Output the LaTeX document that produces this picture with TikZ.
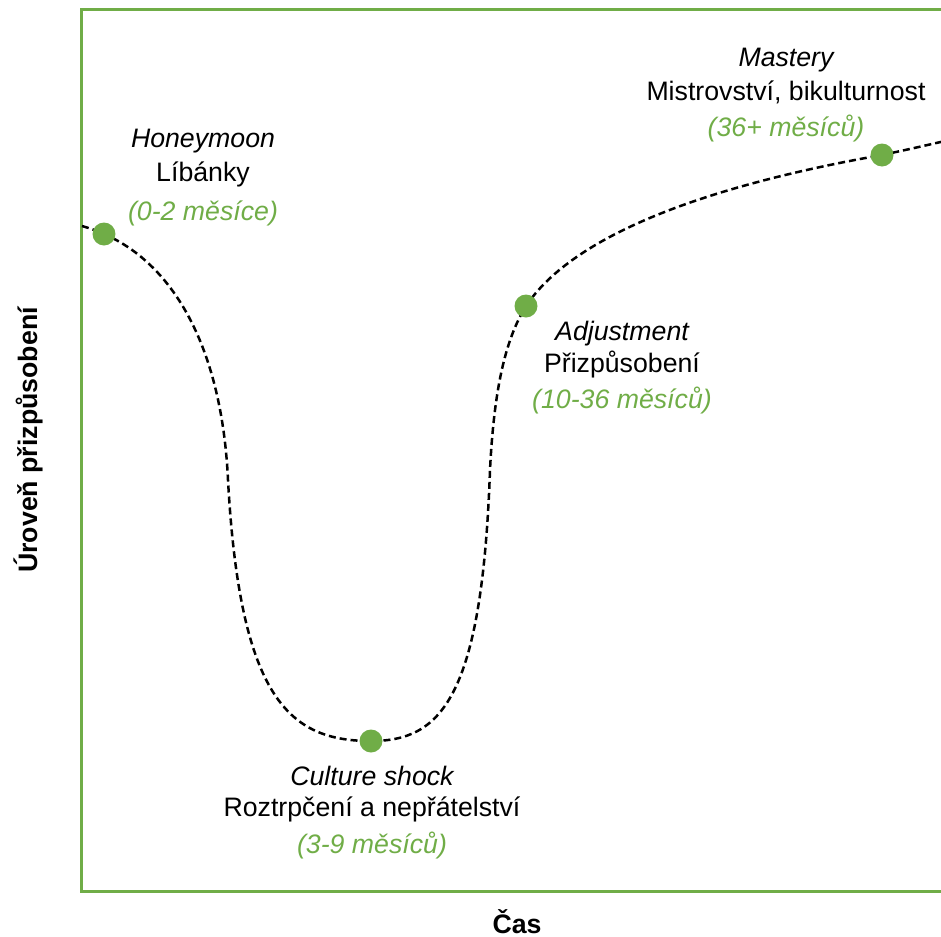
\documentclass[tikz,border=0pt]{standalone}
\usepackage{fontspec}
\setmainfont{Liberation Sans}
\definecolor{leafgreen}{HTML}{70AD47}

\begin{document}
\begin{tikzpicture}[x=0.02cm, y=-0.02cm,
    frameline/.style={leafgreen, line width=0.06cm},
    curveline/.style={black, line width=0.05cm, dash pattern=on 0.14cm off 0.08cm},
    stagedot/.style={circle, fill=leafgreen, inner sep=0pt, minimum size=0.46cm},
    stagename/.style={anchor=base, inner sep=0pt, font=\fontsize{15.2}{18}\selectfont\itshape},
    stagetext/.style={anchor=base, inner sep=0pt, font=\fontsize{15.2}{18}\selectfont},
    stagetime/.style={anchor=base, inner sep=0pt, text=leafgreen, font=\fontsize{15.2}{18}\selectfont\itshape},
    axislabel/.style={anchor=base, inner sep=0pt, font=\fontsize{15.2}{18}\selectfont\bfseries}]

        \useasboundingbox (0,0) rectangle (941,937);

        %Frame
        \draw [frameline] (945,9) -- (81,9) -- (81,891) -- (945,891);

        %Stage points
        \coordinate (hm) at (104,234);
        \coordinate (cs) at (371,741);
        \coordinate (ad) at (526,306);
        \coordinate (ms) at (882,155);

        %Curve
        \draw [curveline] (82,226) .. controls (92,229) .. (hm)
            .. controls (175,265) and (222,350) .. (228,480)
            .. controls (240,700) and (290,741) .. (cs)
            .. controls (440,741) and (482,700) .. (490,470)
            .. controls (494,390) and (505,340) .. (ad)
            .. controls (580,225) and (740,180) .. (ms)
            .. controls (910,149) .. (945,141);

        \node [stagedot] (honeymoon) at (hm) {};
        \node [stagedot] (shock) at (cs) {};
        \node [stagedot] (adjustment) at (ad) {};
        \node [stagedot] (mastery) at (ms) {};

        %Honeymoon
        \node [stagename] (honeymoonname) at (203,147.5) {Honeymoon};
        \node [stagetext] (honeymoontext) at (203,181.5) {Líbánky};
        \node [stagetime] (honeymoontime) at (203,220) {(0-2 měsíce)};

        %Culture shock
        \node [stagename] (shockname) at (372,785) {Culture shock};
        \node [stagetext] (shocktext) at (372,816.5) {Roztrpčení a nepřátelství};
        \node [stagetime] (shocktime) at (372,853.5) {(3-9 měsíců)};

        %Adjustment
        \node [stagename] (adjustmentname) at (622,340) {Adjustment};
        \node [stagetext] (adjustmenttext) at (622,372) {Přizpůsobení};
        \node [stagetime] (adjustmenttime) at (622,408.5) {(10-36 měsíců)};

        %Mastery
        \node [stagename] (masteryname) at (786,66.5) {Mastery};
        \node [stagetext] (masterytext) at (786,100) {Mistrovství, bikulturnost};
        \node [stagetime] (masterytime) at (786,136.5) {(36+ měsíců)};

        %Axes
        \node [axislabel] (timelabel) at (517,933) {Čas};
        \node [axislabel, rotate=90] (levellabel) at (37,440) {Úroveň přizpůsobení};

\end{tikzpicture}
\end{document}
